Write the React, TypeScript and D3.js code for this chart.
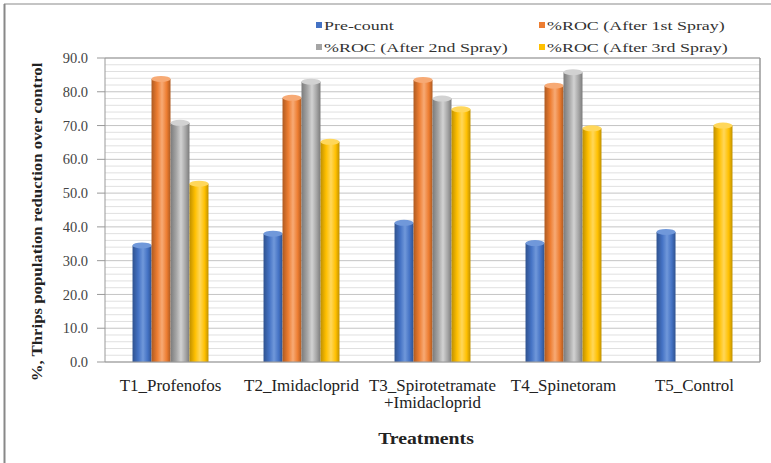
import React from "react";
import * as d3 from "d3";

const categories = [
  "T1_Profenofos",
  "T2_Imidacloprid",
  "T3_Spirotetramate\n+Imidacloprid",
  "T4_Spinetoram",
  "T5_Control",
];
const seriesNames = [
  "Pre-count",
  "%ROC (After 1st Spray)",
  "%ROC (After 2nd Spray)",
  "%ROC (After 3rd Spray)",
];
const preCount = [34.5, 38.0, 41.2, 35.2, 38.5];
const roc1 = [83.8, 78.2, 83.5, 81.8, 0];
const roc2 = [70.8, 83.0, 78.0, 85.8, 0];
const roc3 = [52.8, 65.2, 74.8, 69.2, 70.0];
const yTicks = [0, 10, 20, 30, 40, 50, 60, 70, 80, 90];
const colors = ["#4472C4", "#ED7D31", "#A5A5A5", "#FFC000"];
const darkColors = ["#2F528F", "#AE5A21", "#7B7B7B", "#BF9000"];
const lightColors = ["#7098DA", "#F7AA75", "#D2D2D2", "#FFD75A"];

const W = 771;
const H = 463;
const M = { left: 105, right: 760, top: 58, bottom: 362 };
const FONT = "'Liberation Serif', 'Times New Roman', serif";

export default function App() {
  const seriesValues = [preCount, roc1, roc2, roc3];
  const x0 = d3.scaleBand<string>().domain(categories).range([M.left, M.right]).padding(0);
  const x1 = d3
    .scaleBand<number>()
    .domain([0, 1, 2, 3])
    .range([0, x0.bandwidth()])
    .paddingInner(0)
    .paddingOuter(1.45);
  const y = d3.scaleLinear().domain([0, 90]).range([M.bottom, M.top]);
  const minor = d3.range(0, 91, 2).filter((v) => v % 10 !== 0);

  return (
    <svg
      width={W}
      height={H}
      style={{ position: "absolute", left: 0, top: 0, background: "#fff" }}
      fontFamily={FONT}
    >
      <defs>
        {colors.map((c, i) => (
          <linearGradient key={i} id={`g${i}`} x1="0" x2="1" y1="0" y2="0">
            <stop offset="0" stopColor={darkColors[i]} />
            <stop offset="0.3" stopColor={c} />
            <stop offset="0.55" stopColor={lightColors[i]} />
            <stop offset="0.8" stopColor={c} />
            <stop offset="1" stopColor={darkColors[i]} />
          </linearGradient>
        ))}
      </defs>
      <rect x={0} y={0} width={W} height={H} fill="#fff" />
      {/* outer frame */}
      <line x1={4} x2={W} y1={4} y2={4} stroke="#b0b0b0" strokeWidth={1.5} />
      <line x1={4.5} x2={4.5} y1={4} y2={H} stroke="#888" strokeWidth={2} />

      {/* legend */}
      {seriesNames.map((s, i) => {
        const lx = i % 2 === 0 ? 319 : 542;
        const ly = i < 2 ? 25 : 47;
        return (
          <g key={s}>
            <rect x={lx - 3} y={ly - 3} width={6} height={6} fill={colors[i]} />
            <text
              transform={`translate(${lx + 5},${ly}) scale(1.38,1)`}
              dy="0.35em"
              fontSize={13}
              fill="#333"
            >
              {s}
            </text>
          </g>
        );
      })}

      {/* gridlines */}
      {minor.map((v) => (
        <line key={"m" + v} x1={M.left} x2={M.right} y1={y(v)} y2={y(v)} stroke="#e0e0e0" strokeWidth={1} />
      ))}
      {yTicks.map((v) => (
        <line key={"g" + v} x1={M.left} x2={M.right} y1={y(v)} y2={y(v)} stroke="#c4c4c4" strokeWidth={1} />
      ))}
      {/* plot border */}
      <line x1={M.left} x2={M.right} y1={M.top} y2={M.top} stroke="#999" strokeWidth={1} />
      <line x1={M.right} x2={M.right} y1={M.top} y2={M.bottom} stroke="#999" strokeWidth={1.5} />

      {/* y axis */}
      <line x1={M.left} x2={M.left} y1={M.top} y2={M.bottom} stroke="#999" strokeWidth={1} />
      {yTicks.map((v) => (
        <g key={"t" + v}>
          <line x1={M.left - 8} x2={M.left} y1={y(v)} y2={y(v)} stroke="#999" />
          <text x={88} y={y(v)} dy="0.35em" textAnchor="end" fontSize={14.5} fill="#444">
            {v.toFixed(1)}
          </text>
        </g>
      ))}

      {/* bars */}
      {categories.map((c, ci) => (
        <g key={c} transform={`translate(${x0(c)},0)`}>
          {seriesValues.map((vals, si) => {
            const v = vals[ci];
            if (!v) return null;
            const bx = x1(si)!;
            const bw = x1.bandwidth();
            const top = y(v);
            return (
              <g key={si}>
                <rect x={bx} y={top} width={bw} height={M.bottom - top} fill={`url(#g${si})`} />
                <ellipse cx={bx + bw / 2} cy={top} rx={bw / 2} ry={3} fill={lightColors[si]} />
              </g>
            );
          })}
        </g>
      ))}

      {/* x axis */}
      <line x1={M.left} x2={M.right} y1={M.bottom} y2={M.bottom} stroke="#999" />
      {categories.map((c) => {
        const lines = c.split("\n");
        const cx = x0(c)! + x0.bandwidth() / 2;
        return (
          <text
            key={c}
            transform={`translate(${cx},385) scale(1.06,1)`}
            textAnchor="middle"
            fontSize={16}
            fill="#222"
          >
            {lines.map((l, i) => (
              <tspan key={i} x={0} dy={i === 0 ? "0.35em" : "1.1em"}>
                {l}
              </tspan>
            ))}
          </text>
        );
      })}
      <text
        transform={`translate(426,438) scale(1.16,1)`}
        textAnchor="middle"
        fontSize={17}
        fontWeight="bold"
        fill="#222"
        dy="0.35em"
      >
        Treatments
      </text>
      <text
        transform={`translate(37,222) rotate(-90) scale(1.2,1)`}
        textAnchor="middle"
        dy="0.35em"
        fontSize={14}
        fontWeight="bold"
        fill="#222"
      >
        %, Thrips population reduction over control
      </text>
    </svg>
  );
}
